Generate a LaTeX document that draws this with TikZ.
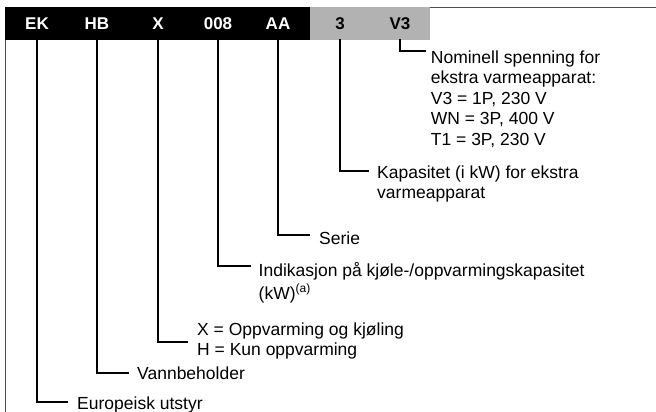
\documentclass[tikz,border=0pt]{standalone}
\usepackage{fontspec}
\setmainfont{Liberation Sans}
\begin{document}
\begin{tikzpicture}[x=1pt,y=-1pt,
  code/.style={font=\fontsize{17}{20}\selectfont\bfseries, minimum height=33pt, inner sep=0pt, anchor=center},
  desc/.style={font=\fontsize{17.5}{20.5}\selectfont, align=left, inner sep=0pt, anchor=north west},
  conn/.style={line width=1.7pt, line join=miter, line cap=rect},
  frame/.style={line width=0.8pt, black!70}]
\useasboundingbox (0,0) rectangle (656,412);
% code bar
\fill[black] (5,7) rectangle (310,40);
\fill[black!30] (310,7) rectangle (430,40);
\draw[frame] (430,7.4) -- (656,7.4);
\draw[frame] (5.6,40) -- (5.6,412);
\node[code, text=white] (ek)  at (37,23.5)  {EK};
\node[code, text=white] (hb)  at (97,23.5)  {HB};
\node[code, text=white] (cx)  at (158,23.5) {X};
\node[code, text=white] (c008) at (218,23.5) {008};
\node[code, text=white] (aa)  at (278,23.5) {AA};
\node[code, text=black] (c3)  at (340,23.5) {3};
\node[code, text=black] (v3)  at (400,23.5) {V3};
% descriptions
\node[desc] (dv3) at (430.7,50.5) {Nominell spenning for\\ekstra varmeapparat:\\V3 = 1P, 230 V\\WN = 3P, 400 V\\T1 = 3P, 230 V};
\node[desc] (d3) at (377,165.5) {Kapasitet (i kW) for ekstra\\varmeapparat};
\node[desc] (daa) at (319,231.5) {Serie};
\node[desc, font=\fontsize{17.5}{23}\selectfont] (d008) at (258.5,262.5) {Indikasjon på kjøle-/oppvarmingskapasitet\\(kW)\raisebox{7pt}{\fontsize{12}{12}\selectfont(a)}};
\node[desc] (dx) at (197,322.5) {X = Oppvarming og kjøling\\H = Kun oppvarming};
\node[desc] (dhb) at (137,366.5) {Vannbeholder};
\node[desc] (dek) at (77,396.5) {Europeisk utstyr};
% connector ends
\coordinate (ev3) at (425,51);
\coordinate (e3) at (368,171);
\coordinate (eaa) at (309,235);
\coordinate (e008) at (250,266);
\coordinate (ex) at (187,342);
\coordinate (ehb) at (128,373);
\coordinate (eek) at (67,402);
% connectors
\draw[conn] (v3.south) |- (ev3);
\draw[conn] (c3.south) |- (e3);
\draw[conn] (aa.south) |- (eaa);
\draw[conn] (c008.south) |- (e008);
\draw[conn] (cx.south) |- (ex);
\draw[conn] (hb.south) |- (ehb);
\draw[conn] (ek.south) |- (eek);
\end{tikzpicture}
\end{document}
